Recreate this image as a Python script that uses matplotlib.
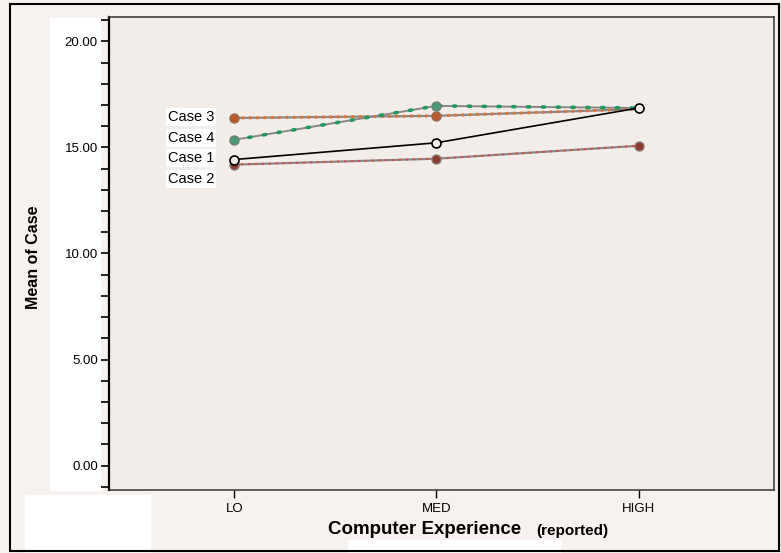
import numpy as np
import matplotlib
matplotlib.use('Agg')
import matplotlib.pyplot as plt
from matplotlib.patches import Rectangle
from matplotlib.ticker import MultipleLocator, FormatStrFormatter

plt.rcParams['font.family'] = ['Liberation Sans', 'DejaVu Sans']

levels = ['LO', 'MED', 'HIGH']
case1 = [14.43, 15.22, 16.86]
case2 = [14.19, 14.47, 15.08]
case3 = [16.39, 16.49, 16.81]
case4 = [15.36, 16.96, 16.86]
labels = ['Case 3', 'Case 4', 'Case 1', 'Case 2']

paper = '#f3ede9'
fig = plt.figure(figsize=(7.81, 5.53), dpi=100, facecolor='#f7f2ef')
W, H = 781, 553
def fx(px): return px / W
def fy(py): return 1 - py / H

# white scanner patches around the plot
for (x0, y0, x1, y1) in [(50, 18, 100, 490), (25, 495, 150, 553), (348, 540, 560, 553)]:
    fig.patches.append(Rectangle((fx(x0), fy(y1)), fx(x1) - fx(x0), fy(y0) - fy(y1),
                                 transform=fig.transFigure, color='white', zorder=-5))

ax = fig.add_axes([fx(109), fy(490), fx(774) - fx(109), fy(17) - fy(490)])
ax.set_facecolor(paper)
x = np.arange(len(levels))

# Case 2: grey line with red crosses
ax.plot(x, case2, color='#8d8686', lw=1.6, zorder=2)
ax.plot(x, case2, color='#d9473a', lw=1.3, ls=(0, (1.2, 2.6)), zorder=3)
ax.plot(x, case2, ls='none', marker='o', ms=6.5, mfc='#8e3a30', mec='#8a7c78', zorder=4)
# Case 3: grey line with orange pluses
ax.plot(x, case3, color='#8d8686', lw=1.6, zorder=2)
ax.plot(x, case3, color='#e5722c', lw=2.2, ls=(0, (0.8, 1.6)), zorder=3)
ax.plot(x[:2], case3[:2], ls='none', marker='o', ms=6.5, mfc='#b8592c', mec='#9a6a50', zorder=4)
# Case 4: grey line with green dots
ax.plot(x, case4, color='#8d8686', lw=1.4, zorder=2)
ax.plot(x, case4, color='#1f9a5e', lw=2.6, ls=(0, (0.6, 3.5)), dash_capstyle='round', zorder=3)
ax.plot(x[:2], case4[:2], ls='none', marker='o', ms=6.5, mfc='#4f9a76', mec='#6f7f74', zorder=4)
# Case 1: black line with open circles
ax.plot(x, case1, color='black', lw=1.2, marker='o', ms=6.5, mfc=paper, mec='black', mew=1.2, zorder=5)

ax.set_xlim(-0.62, 2.67)
ax.set_ylim(-1.15, 21.15)
ax.set_xticks(x)
ax.set_xticklabels(levels, fontsize=9.5)
ax.yaxis.set_major_locator(MultipleLocator(5))
ax.yaxis.set_minor_locator(MultipleLocator(1))
ax.yaxis.set_major_formatter(FormatStrFormatter('%.2f'))
ax.tick_params(axis='y', labelsize=9.5, length=6, width=1.2, direction='out', pad=2)
ax.tick_params(axis='y', which='minor', length=6, width=1.2)
ax.tick_params(axis='x', length=6, width=1, direction='out', pad=3)
for s in ax.spines.values():
    s.set_linewidth(1.1)
    s.set_color('#333333')
ax.spines['left'].set_linewidth(1.6)
ax.spines['left'].set_color('black')

# case labels
for lab, py in zip(labels, [117, 138, 158, 179]):
    fig.text(fx(168), fy(py), lab, fontsize=10.5, va='center', ha='left',
             bbox=dict(facecolor='white', edgecolor='none', pad=1.5))

fig.text(fx(33), fy(257), 'Mean of Case', rotation=90, fontsize=11.5, fontweight='bold',
         ha='center', va='center')
fig.text(fx(328), fy(529), 'Computer Experience', fontsize=13.5, fontweight='bold',
         ha='left', va='center')
fig.text(fx(536), fy(531), '(reported)', fontsize=11, fontweight='bold',
         ha='left', va='center')

fig.patches.append(Rectangle((fx(10), fy(551)), fx(779) - fx(10), fy(4) - fy(551),
                             transform=fig.transFigure, fill=False, ec='black', lw=1.5, zorder=10))

fig.savefig('out.png', dpi=100, facecolor=fig.get_facecolor())
